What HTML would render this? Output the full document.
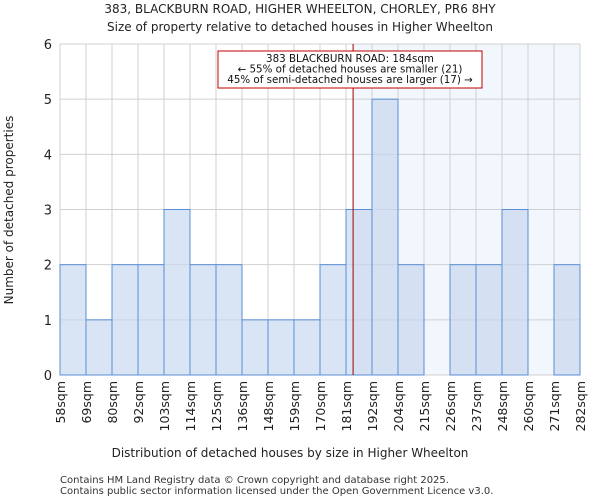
<!DOCTYPE html>
<html><head><meta charset="utf-8"><style>
body{margin:0;background:#fff;font-family:"DejaVu Sans","Liberation Sans",sans-serif}
</style></head><body>
<svg id="c" width="600" height="500" xmlns="http://www.w3.org/2000/svg" font-family="DejaVu Sans, Liberation Sans, sans-serif">
<text x="300" y="13" text-anchor="middle" font-size="12" fill="#222">383, BLACKBURN ROAD, HIGHER WHEELTON, CHORLEY, PR6 8HY</text>
<text x="300" y="31" text-anchor="middle" font-size="12" fill="#222">Size of property relative to detached houses in Higher Wheelton</text>
<g id="plot"></g>
<text x="290" y="457" text-anchor="middle" font-size="12" fill="#222">Distribution of detached houses by size in Higher Wheelton</text>
<text transform="translate(13,210) rotate(-90)" text-anchor="middle" font-size="12" fill="#222">Number of detached properties</text>
<text x="60" y="483" font-size="10" fill="#333">Contains HM Land Registry data © Crown copyright and database right 2025.</text>
<text x="60" y="494" font-size="10" fill="#333">Contains public sector information licensed under the Open Government Licence v3.0.</text>
</svg>
<script>
const binEdges=[58,69,80,92,103,114,125,136,148,159,170,181,192,204,215,226,237,248,260,271,282];
const counts=[2,1,2,2,3,2,2,1,1,1,2,3,5,2,0,2,2,3,0,2];
const yTicks=[0,1,2,3,4,5,6];
const propertySize=184;
const annoLines=["383 BLACKBURN ROAD: 184sqm","← 55% of detached houses are smaller (21)","45% of semi-detached houses are larger (17) →"];
const NS="http://www.w3.org/2000/svg";
const L=60,R=580,T=44,B=375,nb=counts.length,bw=(R-L)/nb;
const yMax=6;
function y(v){return B-(v/yMax)*(B-T);}
function xIdx(i){return L+i*bw;}
function xVal(v){for(let i=0;i<nb;i++){if(v>=binEdges[i]&&v<=binEdges[i+1])return xIdx(i)+(v-binEdges[i])/(binEdges[i+1]-binEdges[i])*bw;}return R;}
const g=document.getElementById('plot');
function mk(t,a){const e=document.createElementNS(NS,t);for(const k in a)e.setAttribute(k,a[k]);g.appendChild(e);return e;}
const px=xVal(propertySize);
let e=mk('rect',{x:px,y:T,width:R-px,height:B-T,fill:'#f2f6fd'});


for(let i=0;i<=nb;i++){e=mk('line',{x1:xIdx(i),x2:xIdx(i),y1:T,y2:B,stroke:'#d0d0d0','stroke-width':1});

}
yTicks.forEach(t=>{e=mk('line',{x1:L,x2:R,y1:y(t),y2:y(t),stroke:'#d0d0d0','stroke-width':1});


e=mk('text',{x:L-8,y:y(t)+5,'text-anchor':'end','font-size':13,fill:'#222'});e.textContent=t;

});
counts.forEach((c,i)=>{if(!c)return;e=mk('rect',{x:xIdx(i),y:y(c),width:bw,height:B-y(c),fill:'rgba(196,214,238,0.65)',stroke:'#5b8fd6','stroke-width':1});

});
binEdges.forEach((v,i)=>{e=mk('text',{transform:`translate(${xIdx(i)+5},381) rotate(-90)`,'text-anchor':'end','font-size':12.5,fill:'#222'});e.textContent=v+'sqm';

});
e=mk('line',{x1:px,x2:px,y1:T,y2:B,stroke:'#a00000','stroke-width':1});


e=mk('rect',{x:218,y:51,width:264,height:37,fill:'#fff',stroke:'#c00000','stroke-width':1});


annoLines.forEach((s,i)=>{e=mk('text',{x:350,y:62+i*10.5,'text-anchor':'middle','font-size':10.3,fill:'#111'});e.textContent=s;

});
</script>
</body></html>
